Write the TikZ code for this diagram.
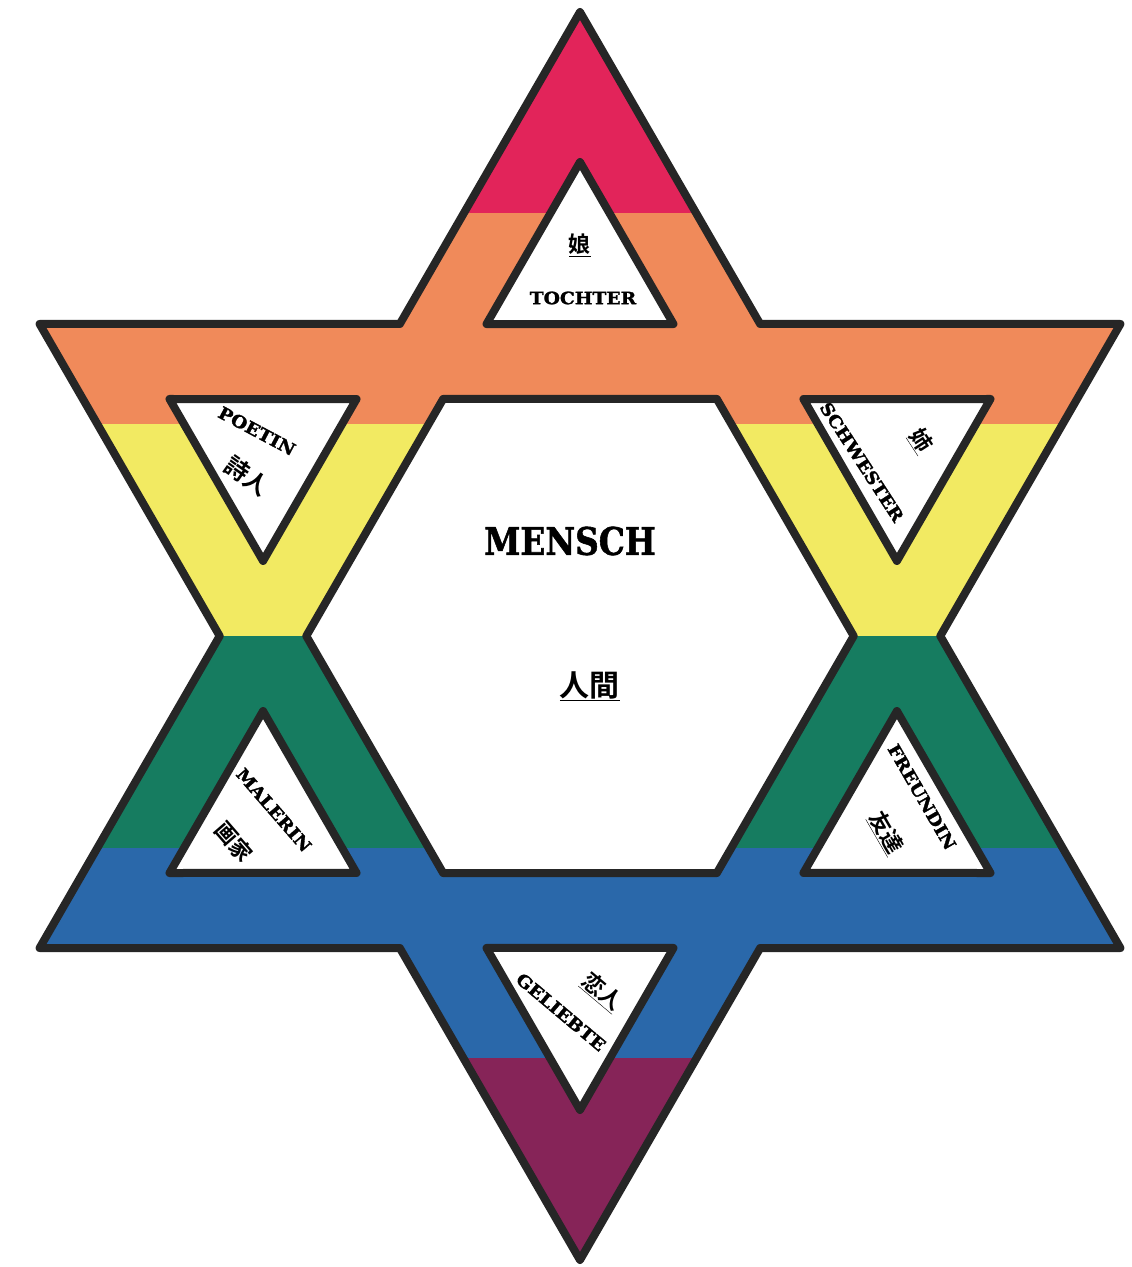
\documentclass[tikz,border=0pt]{standalone}
\usepackage{fontspec}
\newfontfamily\gfont{DejaVu Serif}[BoldFeatures={FakeBold=1.6}]
\newfontfamily\cjk{Noto Sans CJK JP}[BoldFont={Noto Sans CJK JP Bold}]
\definecolor{cred}{HTML}{E2245A}
\definecolor{corange}{HTML}{F08A5A}
\definecolor{cyellow}{HTML}{F2EA62}
\definecolor{cgreen}{HTML}{167C60}
\definecolor{cblue}{HTML}{2A68AA}
\definecolor{cpurple}{HTML}{862458}
\definecolor{ink}{HTML}{262626}
\tikzset{
  outline/.style={draw=ink, line width=8pt, line join=round},
  hole/.style={fill=white, draw=ink, line width=8pt, line join=round},
  de/.style={inner sep=0pt, font=\gfont\bfseries\fontsize{17}{17}\selectfont, text=black},
  jp/.style={inner sep=0pt, font=\cjk\bfseries\fontsize{22}{22}\selectfont, text=black},
}
\newcommand{\wide}[1]{\scalebox{1.1}[1]{#1}}
\begin{document}
\begin{tikzpicture}[x=1pt,y=1pt]
\useasboundingbox (-580,-631) rectangle (552,636);
\fill[white] (-580,-631) rectangle (552,636);
\def\R{624}
\def\Rn{360.3}
% colour bands clipped to the star
\begin{scope}
\clip (90:\R) -- (120:\Rn) -- (150:\R) -- (180:\Rn) -- (210:\R) -- (240:\Rn) -- (270:\R) -- (300:\Rn) -- (330:\R) -- (0:\Rn) -- (30:\R) -- (60:\Rn) -- cycle;
\fill[cpurple] (-600,-640) rectangle (600,-422);
\fill[cblue] (-600,-422) rectangle (600,-211.5);
\fill[cgreen] (-600,-211.5) rectangle (600,0);
\fill[cyellow] (-600,0) rectangle (600,211.5);
\fill[corange] (-600,211.5) rectangle (600,423);
\fill[cred] (-600,423) rectangle (600,640);
\end{scope}
% star outline
\path[outline] (90:\R) -- (120:\Rn) -- (150:\R) -- (180:\Rn) -- (210:\R) -- (240:\Rn) -- (270:\R) -- (300:\Rn) -- (330:\R) -- (0:\Rn) -- (30:\R) -- (60:\Rn) -- cycle;
% central hexagon
\path[hole] (0:273.7) -- (60:273.7) -- (120:273.7) -- (180:273.7) -- (240:273.7) -- (300:273.7) -- cycle;
% small triangles in the six points
\foreach \t in {90,150,210,270,330,390}
  \path[hole] (\t:474) -- (\t+16.68:325.7) -- (\t-16.68:325.7) -- cycle;
% labels
\node[de] (tochter) at (3,338) {\wide{TOCHTER}};
\node[jp] (musume) at (0,391) {\underline{娘}};
\node[de, rotate=-28] (poetin) at (-323,205) {\wide{POETIN}};
\node[jp, rotate=-35, font=\cjk\bfseries\fontsize{24}{24}\selectfont] (shijin) at (-333,160) {詩人};
\node[de, rotate=-57] (schwester) at (282,174) {\wide{SCHWESTER}};
\node[jp, rotate=-57] (ane) at (341,195) {\underline{姉}};
\node[de, rotate=-49] (malerin) at (-306,-174) {\wide{MALERIN}};
\node[jp, rotate=-49] (gaka) at (-346,-206) {画家};
\node[de, rotate=-60] (freundin) at (342,-161) {\wide{FREUNDIN}};
\node[jp, rotate=-60] (tomodachi) at (306,-197) {\underline{友達}};
\node[de, rotate=-40] (geliebte) at (-19,-376) {\wide{GELIEBTE}};
\node[jp, rotate=-40] (koibito) at (22,-356) {\underline{恋人}};
\node[inner sep=0pt, font=\gfont\bfseries\fontsize{38}{38}\selectfont] (mensch) at (-10,95) {\scalebox{0.86}[1]{MENSCH}};
\node[inner sep=0pt, font=\cjk\bfseries\fontsize{30}{30}\selectfont] (ningen) at (10,-50) {\underline{人間}};
\end{tikzpicture}
\end{document}
